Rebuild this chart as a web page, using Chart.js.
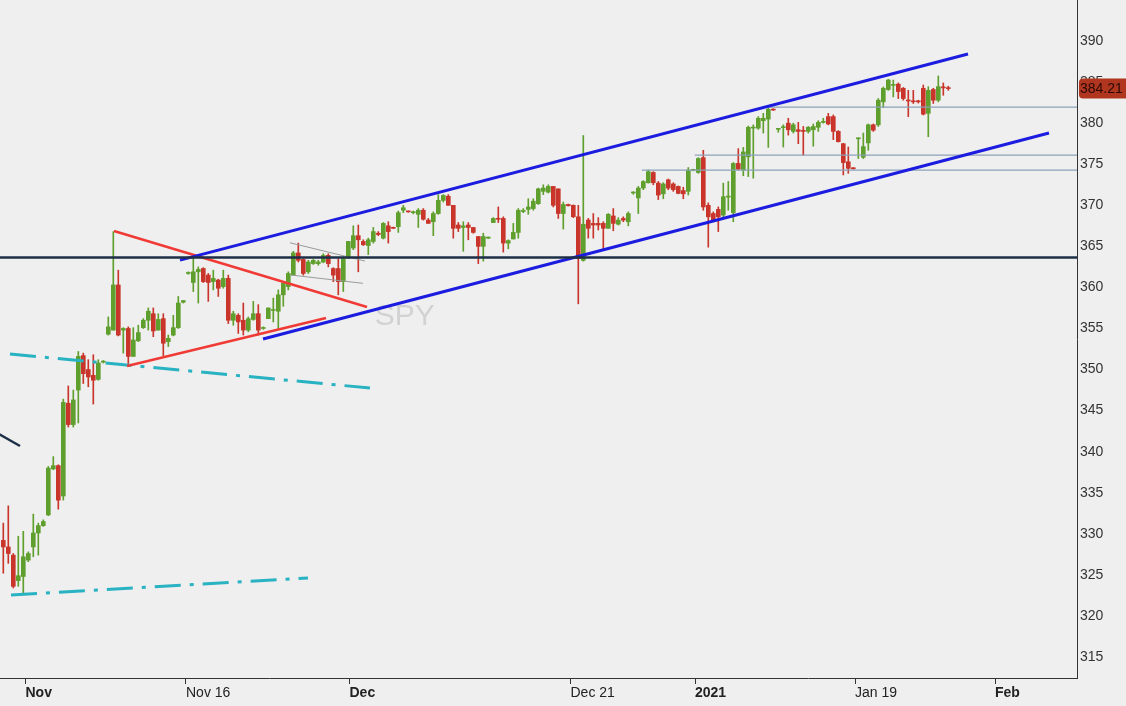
<!DOCTYPE html>
<html>
<head>
<meta charset="utf-8">
<script src="https://cdn.jsdelivr.net/npm/chart.js@4.4.1/dist/chart.umd.min.js"></script>
<style>
  html, body { margin: 0; padding: 0; background: #efefef; }
  #wrap { width: 1126px; height: 706px; position: relative; }
</style>
</head>
<body>
<div id="wrap"><canvas id="spy_chart"></canvas></div>
<script>
// SPY, 130 min bars, Oct 28 2020 .. Jan 26 2021 (bar index on x)
const opens = [
  329.2,328.4,327.4,324.3,324.8,326.8,328.4,330.1,331.0,332.3,
  337.9,338.3,334.6,345.9,343.3,347.5,351.7,350.0,349.3,348.8,
  350.9,354.3,354.8,360.3,354.8,355.0,351.6,353.5,355.1,356.0,
  356.8,354.8,356.2,353.4,354.2,355.1,358.2,361.7,360.6,361.9,
  362.3,361.5,360.7,360.9,360.1,361.1,356.0,356.6,356.0,354.8,
  356.1,356.8,355.0,356.2,357.2,357.1,359.1,360.1,361.5,364.2,
  363.4,361.9,362.9,362.9,363.1,363.9,362.3,362.3,360.7,363.6,
  364.8,366.3,365.6,365.1,365.6,366.6,366.0,367.5,367.3,367.4,
  369.4,369.25,369.1,368.9,369.4,368.2,368.0,369.0,370.6,371.1,
  370.0,367.6,367.3,367.6,367.3,366.2,365.0,366.0,367.9,368.4,
  368.4,365.4,365.9,366.7,369.25,369.5,369.6,370.2,371.7,371.6,
  372.3,372.0,369.0,370.1,370.0,368.6,363.3,368.2,367.8,367.8,
  367.8,367.2,368.7,367.7,368.4,368.0,371.5,370.9,372.1,372.75,
  374.0,372.7,371.4,373.1,372.6,372.3,371.8,371.7,374.25,374.0,
  375.8,370.0,369.0,369.5,368.8,371.0,369.1,375.1,374.3,375.9,
  379.4,379.4,380.3,380.5,381.7,379.25,379.45,380.0,379.0,379.2,
  379.1,379.0,379.2,379.5,380.1,380.8,380.8,379.0,377.5,375.3,
  374.55,378.1,375.85,377.6,379.8,379.8,382.6,384.1,384.6,384.75,
  384.25,382.8,382.7,382.65,384.25,381.2,384.1,382.8,384.4,384.3
];
const highs = [
  331.3,333.4,327.6,329.7,330.3,327.8,332.4,331.3,331.7,338.2,
  339.4,338.4,346.4,348.0,347.5,352.2,352.0,351.2,351.8,351.2,
  351.1,356.4,366.8,362.1,355.1,355.2,355.1,355.4,356.2,357.5,
  357.5,356.8,356.8,354.2,356.6,358.9,358.4,361.9,363.7,362.5,
  362.4,361.7,362.1,361.0,362.1,361.5,357.1,356.8,358.1,356.4,
  358.3,357.9,355.2,357.5,358.7,359.7,360.7,361.9,364.4,365.4,
  363.5,363.3,363.4,363.3,364.1,364.1,362.4,363.5,363.7,365.6,
  367.5,367.6,365.8,366.0,367.3,366.8,367.9,368.0,367.35,369.3,
  370.0,369.3,369.3,369.6,369.6,368.4,369.2,371.3,371.3,371.3,
  370.0,367.9,368.0,367.9,367.3,366.2,366.6,366.15,368.5,369.8,
  368.6,365.8,367.8,369.6,369.6,370.8,370.8,372.1,372.5,372.5,
  372.3,372.0,370.4,370.15,370.05,370.0,378.5,368.4,369.0,368.5,
  368.0,369.0,369.6,368.5,368.6,369.2,371.65,372.3,373.0,374.3,
  374.1,372.9,372.75,373.2,372.75,372.35,372.2,374.6,374.4,375.8,
  376.7,370.3,369.2,369.8,372.7,372.9,375.2,376.9,377.05,379.65,
  379.8,380.8,381.2,381.8,381.75,379.32,379.8,380.6,380.0,380.1,
  379.6,379.6,379.9,380.3,380.6,381.2,381.0,379.1,377.55,377.1,
  374.6,378.2,378.8,379.9,379.9,383.0,384.4,385.35,385.25,384.9,
  384.35,384.0,384.0,382.8,384.65,384.45,384.25,385.75,384.9,384.5
];
const lows = [
  325.2,326.4,323.4,323.6,322.8,326.6,327.2,327.4,330.9,332.2,
  337.8,333.0,334.1,343.0,343.0,343.5,348.3,347.9,345.8,348.7,
  350.8,354.2,354.8,354.1,352.0,350.4,351.6,353.4,355.0,354.8,
  354.0,354.8,351.7,352.8,354.1,355.0,358.1,361.6,359.5,358.1,
  360.6,358.3,359.7,358.9,359.9,355.6,355.4,354.4,354.2,354.6,
  356.0,354.2,354.9,356.2,355.8,355.0,357.7,359.7,361.5,363.1,
  361.5,361.7,362.8,362.7,363.0,362.5,360.7,359.1,359.5,363.5,
  364.6,361.9,365.1,364.0,365.4,366.3,365.9,365.4,367.15,366.7,
  369.1,369.15,368.95,367.3,368.2,367.8,366.3,368.9,370.4,370.0,
  366.0,366.8,364.4,365.8,366.6,362.9,363.2,365.95,367.9,367.9,
  364.3,364.7,365.9,366.0,369.1,368.9,369.4,370.1,371.3,371.5,
  369.8,368.4,367.1,369.9,368.5,358.0,363.2,366.0,366.0,367.0,
  364.7,367.2,366.9,367.6,368.0,367.5,371.35,369.0,371.9,372.7,
  372.5,370.7,370.8,371.9,371.7,371.4,370.8,371.25,374.2,373.9,
  369.4,364.9,368.0,366.8,368.6,369.4,368.0,374.3,373.6,373.5,
  373.3,379.25,378.8,377.05,381.55,378.9,377.1,378.55,378.8,377.5,
  376.1,378.8,377.2,379.0,380.0,379.8,378.0,377.7,373.7,373.9,
  374.4,375.7,375.7,376.7,379.0,379.6,381.9,384.0,383.2,383.0,
  382.8,380.8,382.4,382.45,381.0,378.35,382.4,382.6,383.4,384.0
];
const closes = [
  328.4,327.6,323.6,324.9,327.2,327.6,330.1,331.0,331.5,338.0,
  338.3,334.1,346.0,343.3,346.3,351.6,349.5,349.1,348.7,350.8,
  351.0,355.2,360.3,354.2,355.0,351.6,353.6,354.5,356.0,357.1,
  354.7,356.1,353.2,353.8,355.1,358.1,358.4,361.8,361.9,362.2,
  360.7,360.6,361.1,359.9,361.1,356.0,356.8,355.8,354.8,356.2,
  356.8,354.8,355.1,357.5,357.3,359.1,360.5,361.7,364.2,363.3,
  361.7,363.1,363.3,363.1,363.9,362.9,361.5,360.7,363.5,365.6,
  366.3,365.8,365.2,365.8,366.8,366.45,367.8,366.8,367.2,369.1,
  369.7,369.2,369.15,369.4,368.3,367.8,369.0,370.6,371.2,370.0,
  367.2,367.2,367.5,367.3,366.7,365.0,366.2,366.1,368.4,368.3,
  365.4,365.7,366.7,369.4,369.35,369.8,370.5,372.0,372.1,372.3,
  370.0,369.0,370.1,369.95,368.6,363.5,367.7,367.2,367.6,367.6,
  367.2,368.9,367.8,368.2,368.2,369.0,371.6,372.1,372.9,374.1,
  372.75,371.25,372.6,372.1,371.9,371.45,371.4,374.3,374.35,375.7,
  369.8,368.6,368.2,368.6,371.05,371.1,375.1,374.4,376.5,379.5,
  379.5,380.6,380.6,381.7,381.6,379.3,379.55,379.2,379.8,379.0,
  379.0,379.5,379.6,380.1,380.2,379.9,379.0,377.75,375.2,374.5,
  374.45,378.15,377.15,379.8,379.15,382.8,384.25,385.25,384.7,383.85,
  383.0,382.7,382.6,382.6,381.1,384.0,382.8,384.45,384.3,384.21
];

// x axis labels, placed at bar-index positions
const tickPos    = [4.44, 36.54, 69.24, 113.44, 138.34, 170.34, 198.34];
const tickLabels = ["Nov", "Nov 16", "Dec", "Dec 21", "2021", "Jan 19", "Feb"];
const tickBold   = [true, false, true, false, true, false, true];
const priceTicks = [315, 320, 325, 330, 335, 340, 345, 350, 355, 360, 365, 370, 375, 380, 385, 390];

// drawn studies: [barIndex, price] end points
const levelMain     = [[-1, 363.64], [216, 363.64]];
const channelTop    = [[35.34, 363.33], [192.94, 388.42]];
const channelBottom = [[51.94, 353.72], [209.14, 378.80]];
const triangleTop   = [[22.14, 366.87], [72.74, 357.61]];
const triangleBase  = [[24.74, 350.43], [64.54, 356.27]];
const flagTop       = [[57.34, 365.44], [72.34, 363.21]];
const flagBottom    = [[57.54, 361.51], [71.94, 360.50]];
const dashUpper     = [[1.34, 351.89], [73.34, 347.75]];
const dashLower     = [[1.54, 322.55], [60.94, 324.62]];
const oldTrend      = [[-1, 342.2], [3.34, 340.69]];
const levelA        = [[152.3, 381.96], [216, 381.96]];
const levelB        = [[138.3, 376.12], [216, 376.12]];
const levelC        = [[127.7, 374.29], [216, 374.29]];

const symbol = "SPY";
const lastPrice = closes[closes.length - 1];

const GREEN = "#5f9f2d";
const RED = "#c9352a";
const FONT = '"Liberation Sans", Arial, sans-serif';

const candleColors = closes.map((c, i) => c >= opens[i] ? GREEN : RED);
const wickData = lows.map((l, i) => ({ x: i, y: [l, highs[i]] }));
const bodyData = opens.map((o, i) => ({ x: i, y: [Math.min(o, closes[i]), Math.max(o, closes[i])] }));

function lineSet(pts, color, width, dash) {
    return {
        type: "line",
        data: pts.map(p => ({ x: p[0], y: p[1] })),
        borderColor: color,
        borderWidth: width,
        borderDash: dash || [],
        pointRadius: 0,
        fill: false,
        tension: 0,
        order: 1
    };
}

const overlays = {
    id: "overlays",
    beforeDatasetsDraw(chart) {
        const { ctx, scales: { x, y } } = chart;
        ctx.save();
        ctx.font = "30px " + FONT;
        ctx.fillStyle = "#d2d2d2";
        ctx.textAlign = "center";
        ctx.textBaseline = "middle";
        ctx.fillText(symbol, x.getPixelForValue(80.3), y.getPixelForValue(356.4));
        ctx.restore();
    },
    afterDraw(chart) {
        const { ctx, chartArea, scales: { y } } = chart;
        const py = y.getPixelForValue(lastPrice);
        const left = chartArea.right + 2;
        ctx.save();
        ctx.fillStyle = "#b0361f";
        ctx.beginPath();
        ctx.roundRect(left, py - 10, chart.width - left + 4, 20, 4);
        ctx.fill();
        ctx.font = "14px " + FONT;
        ctx.fillStyle = "#2a0904";
        ctx.textAlign = "left";
        ctx.textBaseline = "middle";
        ctx.fillText(lastPrice.toFixed(2), left + 1, py + 1);
        ctx.restore();
    }
};

new Chart(document.getElementById("spy_chart"), {
    type: "bar",
    data: {
        datasets: [
            lineSet(levelMain, "#1d2f47", 2.5),
            lineSet(channelTop, "#1c1ce0", 3),
            lineSet(channelBottom, "#1c1ce0", 3),
            lineSet(triangleTop, "#f03a35", 2.5),
            lineSet(triangleBase, "#f03a35", 2.5),
            lineSet(flagTop, "#9a9a9a", 1),
            lineSet(flagBottom, "#9a9a9a", 1),
            lineSet(dashUpper, "#28b2c2", 3, [26, 9, 4, 9]),
            lineSet(dashLower, "#28b2c2", 3, [26, 9, 4, 9]),
            lineSet(oldTrend, "#1d2f47", 2.5),
            lineSet(levelA, "#8ba2ba", 1.2),
            lineSet(levelB, "#8ba2ba", 1.2),
            lineSet(levelC, "#8ba2ba", 1.2),
            {
                data: bodyData,
                backgroundColor: candleColors,
                borderWidth: 0,
                barThickness: 4,
                minBarLength: 1,
                grouped: false,
                order: 2
            },
            {
                data: wickData,
                backgroundColor: candleColors,
                borderWidth: 0,
                barThickness: 1,
                grouped: false,
                order: 3
            }
        ]
    },
    options: {
        responsive: true,
        maintainAspectRatio: false,
        animation: false,
        events: [],
        layout: { padding: 0 },
        plugins: {
            legend: { display: false },
            tooltip: { enabled: false }
        },
        scales: {
            x: {
                type: "linear",
                min: -0.66,
                max: 214.74,
                offset: false,
                afterBuildTicks: (scale) => {
                    scale.ticks = tickPos.map(v => ({ value: v }));
                },
                afterFit: (scale) => {
                    scale.height = 28;
                    scale.paddingLeft = 0;
                    scale.paddingRight = 0;
                },
                grid: {
                    offset: false,
                    drawOnChartArea: false,
                    drawTicks: true,
                    tickLength: 6,
                    color: "#333333"
                },
                border: { display: true, color: "#333333", width: 1 },
                ticks: {
                    autoSkip: false,
                    maxRotation: 0,
                    align: "start",
                    padding: 1,
                    color: "#222222",
                    font: (ctx) => ({ family: FONT, size: 14, weight: tickBold[ctx.index] ? "bold" : "normal" }),
                    callback: (value, index) => tickLabels[index]
                }
            },
            y: {
                position: "right",
                min: 312.44,
                max: 395.0,
                afterBuildTicks: (scale) => {
                    scale.ticks = priceTicks.map(v => ({ value: v }));
                },
                afterFit: (scale) => {
                    scale.width = 49;
                    scale.paddingTop = 0;
                    scale.paddingBottom = 0;
                },
                grid: { drawOnChartArea: false, drawTicks: false },
                border: { display: true, color: "#333333", width: 1 },
                ticks: {
                    padding: 3,
                    color: "#333333",
                    font: { family: FONT, size: 14 }
                }
            }
        }
    },
    plugins: [overlays]
});
</script>
</body>
</html>
